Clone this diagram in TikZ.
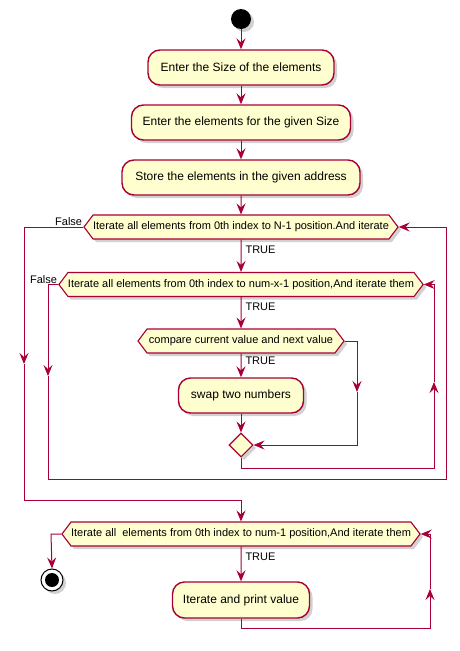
\documentclass[tikz,border=0pt]{standalone}
\usepackage{fontspec}
\setmainfont{Liberation Sans}
\usetikzlibrary{arrows.meta,shapes.symbols,shapes.geometric,shadows}
\definecolor{pfill}{HTML}{FEFECE}
\definecolor{pline}{HTML}{A80036}
\tikzset{
  shd/.style={drop shadow={shadow xshift=3pt,shadow yshift=-3pt,opacity=0.3,fill=black!60}},
  act/.style={draw=pline,fill=pfill,line width=1.4pt,rounded corners=12pt,minimum height=35pt,
    inner sep=0pt,font=\fontsize{12}{14}\selectfont,shd},
  hex/.style={shape=signal,signal to=west and east,signal pointer angle=106,draw=pline,fill=pfill,
    line width=1.1pt,minimum height=24pt,inner sep=0pt,font=\fontsize{11}{13}\selectfont,shd},
  merge/.style={diamond,draw=pline,fill=pfill,line width=1.1pt,minimum width=24pt,minimum height=24pt,
    inner sep=0pt,shd},
  wire/.style={draw=pline,line width=1pt},
  flow/.style={wire,-{Stealth[length=11pt,width=9pt,inset=4pt]}},
  lbl/.style={font=\fontsize{11}{13}\selectfont,inner sep=0pt}
}
\begin{document}
\begin{tikzpicture}[x=1pt,y=-1pt]
\useasboundingbox (0,0) rectangle (459,651);
% start
\node[circle,fill=black,minimum size=20pt,inner sep=0pt,shd] (start) at (241,19) {};
\node[act,minimum width=186pt] (b1) at (241,67.5) {Enter the Size of the elements};
\node[act,minimum width=219pt] (b2) at (241,122.5) {Enter the elements for the given Size};
\node[act,minimum width=238pt] (b3) at (241,177.5) {Store the elements in the given address};
\node[hex,minimum width=313pt] (h1) at (241,227) {Iterate all elements from 0th index to N-1 position.And iterate};
\node[hex,minimum width=363pt] (h2) at (241,284.5) {Iterate all elements from 0th index to num-x-1 position,And iterate them};
\node[hex,minimum width=206pt] (h3) at (241,341) {compare current value and next value};
\node[act,minimum width=125pt] (sw) at (241,395.5) {swap two numbers};
\node[merge] (dm) at (241,445) {};
\node[hex,minimum width=355pt] (h4) at (241,534) {Iterate all\ \ elements from 0th index to num-1 position,And iterate them};
\node[act,minimum width=137pt,minimum height=36pt] (pr) at (241,600) {Iterate and print value};
\node[circle,draw=black,line width=1pt,fill=white,minimum size=22pt,inner sep=0pt,shd] (stop) at (52,580) {};
\node[circle,fill=black,minimum size=14pt,inner sep=0pt] (stopdot) at (stop) {};

% main flow
\draw[flow] (start) -- (b1);
\draw[flow] (b1) -- (b2);
\draw[flow] (b2) -- (b3);
\draw[flow] (b3) -- (h1);
\draw[flow] (h1) -- node[lbl,anchor=west,pos=0.3,xshift=4pt]{TRUE} (h2);
\draw[flow] (h2) -- node[lbl,anchor=west,pos=0.3,xshift=4pt]{TRUE} (h3);
\draw[flow] (h3) -- node[lbl,anchor=west,pos=0.3,xshift=4pt]{TRUE} (sw);
\draw[flow] (sw) -- (dm);

% inner if: false branch
\coordinate (c3a) at (357,341);
\coordinate (c3b) at (357,392);
\draw[flow] (h3.east) -- (c3a) -- (c3b);
\draw[flow] (c3b) -- (357,445) -- (dm.east);

% inner loop back
\coordinate (c2a) at (434,468);
\coordinate (c2b) at (434,382);
\draw[flow] (dm.south) |- (c2a) -- (c2b);
\draw[flow] (c2b) -- (434,284.5) -- (h2.east);

% inner loop exit -> outer loop back
\coordinate (c1a) at (48,284.5);
\coordinate (c1b) at (48,376);
\node[lbl,anchor=south east] (f2) at ([xshift=-1pt,yshift=1pt]h2.west) {False};
\draw[flow] (h2.west) -- (c1a) -- (c1b);
\draw[flow] (c1b) -- (48,479) -- (446,479) -- (446,227) -- (h1.east);

% outer loop exit
\coordinate (c0a) at (24,227);
\coordinate (c0b) at (24,364);
\node[lbl,anchor=south east] (f1) at ([xshift=-1pt,yshift=1pt]h1.west) {False};
\draw[flow] (h1.west) -- (c0a) -- (c0b);
\draw[flow] (c0b) -- (24,500) -- (241,500) -- (h4.north);

% print loop
\draw[flow] (h4) -- node[lbl,anchor=west,pos=0.3,xshift=4pt]{TRUE} (pr);
\coordinate (c4a) at (430,628);
\coordinate (c4b) at (430,589);
\draw[flow] (pr.south) -- (241,628) -- (c4a) -- (c4b);
\draw[flow] (c4b) -- (430,534) -- (h4.east);

% exit to stop
\draw[flow] (h4.west) -- (51,534) -- (stop.north);
\end{tikzpicture}
\end{document}
